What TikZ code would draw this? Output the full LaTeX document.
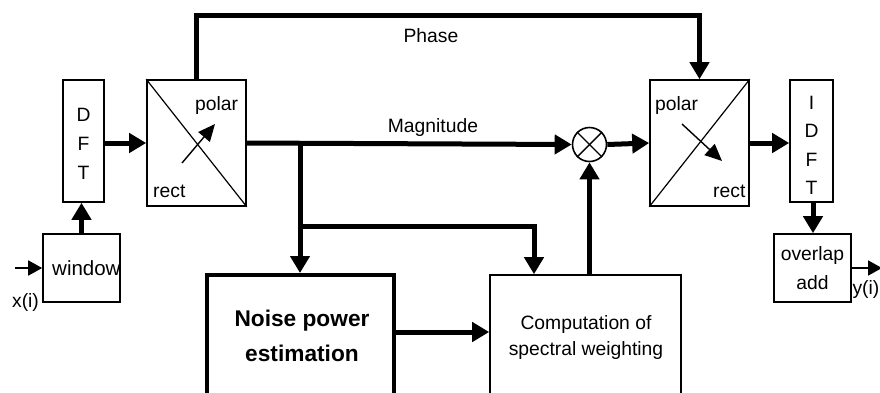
\documentclass[tikz,border=0pt]{standalone}
\usepackage{fontspec}
\setmainfont{Liberation Sans}
\usetikzlibrary{arrows.meta,positioning}

\tikzset{
  blk/.style={draw, line width=1.6pt, inner sep=0pt},
  bigblk/.style={draw, line width=4pt, inner sep=0pt},
  lbl/.style={inner sep=0pt},
  sig/.style={line width=5pt, -{Triangle[length=17pt,width=19pt]}},
  thinsig/.style={line width=1.8pt, -{Triangle[length=14pt,width=15pt]}},
  inner/.style={line width=1.4pt, -{Triangle[length=17pt,width=15pt]}},
}

\begin{document}
\begin{tikzpicture}[x=1pt, y=-1pt, font=\fontsize{19.3}{26}\selectfont]
  \useasboundingbox (0,0) rectangle (880,392);
  \clip (0,0) rectangle (880,392);

  % Bloecke
  \node[blk, minimum width=77pt, minimum height=68pt] (win) at (81.5,268) {};
  \begin{scope}
    \clip (win.south west) rectangle (win.north east);
    \node[lbl, anchor=west, font=\fontsize{20.5}{26}\selectfont] (wintxt) at (52,268) {window};
  \end{scope}
  \node[blk, minimum width=41pt, minimum height=122pt] (dft) at (83.5,141) {};
  \node[lbl, align=center, font=\fontsize{19.3}{29}\selectfont] (dfttxt) at (83.5,144) {D\\F\\T};
  \node[blk, minimum width=99pt, minimum height=126pt] (conv1) at (196.5,143) {};
  \node[blk, minimum width=99pt, minimum height=126pt] (conv2) at (699.5,143) {};
  \node[blk, circle, minimum size=34pt] (mult) at (589.5,144.5) {};
  \node[blk, minimum width=43pt, minimum height=122pt] (idft) at (811.5,141) {};
  \node[lbl, align=center, font=\fontsize{19.3}{28.5}\selectfont] (idfttxt) at (811.5,145.5) {I\\D\\F\\T};
  \node[blk, minimum width=77pt, minimum height=68pt, align=center,
        font=\fontsize{19.3}{29}\selectfont] (ola) at (812.5,268) {overlap\\add};
  \node[bigblk, minimum width=187pt, minimum height=155pt] (noise) at (300.5,352.5) {};
  \node[blk, minimum width=191pt, minimum height=155pt] (comp) at (585.5,352.5) {};

  % Texte
  \node[lbl, align=center, font=\fontsize{22.7}{35}\selectfont\bfseries] (noisetxt) at (302,336) {Noise power\\estimation};
  \node[lbl, align=center] (comptxt) at (586,337) {Computation of\\spectral weighting};
  \node[lbl, anchor=base west] (pol1) at (195,110) {polar};
  \node[lbl, anchor=base west] (rect1) at (153,197) {rect};
  \node[lbl, anchor=base west] (pol2) at (655,110) {polar};
  \node[lbl, anchor=base west] (rect2) at (713,197) {rect};
  \node[lbl] (xin) at (25.5,302) {x(i)};
  \node[lbl, anchor=east] (yout) at (879.5,290) {y(i)};

  % Wandler
  \draw[line width=1.2pt] (conv1.north west) -- (conv1.south east);
  \draw[line width=1.2pt] (conv2.south west) -- (conv2.north east);
  \draw[inner] (182,163) -- (215,124);
  \draw[inner] (682,124) -- (722,161);
  \draw[line width=1.4pt] (mult.north west) -- (mult.south east);
  \draw[line width=1.4pt] (mult.south west) -- (mult.north east);

  % Signalfluss
  \coordinate (in) at (15,268);
  \coordinate (out) at (882,268);
  \draw[thinsig] (in) -- (win.west);
  \draw[sig] (win.north) -- (win.north |- dft.south);
  \draw[sig] (dft.east |- conv1.west) -- (conv1.west);
  \draw[sig] (conv1.north) -- ++(0,-64) -| (conv2.north)
    node[lbl, pos=0.233, below=11pt] (phaselbl) {Phase};
  \draw[sig] (conv1.east) -- (mult.west)
    node[lbl, pos=0.573, above=4.5pt] (maglbl) {Magnitude};
  \draw[sig] (mult.east) -- (conv2.west);
  \draw[sig] (conv2.east) -- (idft.west |- conv2.east);
  \draw[sig] (ola.north -| 813,0) ++(0,-32) -- (ola.north -| 813,0);
  \draw[thinsig] (ola.east) -- (out);

  % Abzweige
  \coordinate (br1) at (300,143);
  \coordinate (br2) at (300,226);
  \draw[sig] (br1) -- (br1 |- noise.north);
  \draw[sig] (br2) -| ([xshift=-51.5pt]comp.north);
  \draw[sig] ([yshift=20.5pt]noise.east) -- ([yshift=20.5pt]comp.west);
  \draw[sig] (mult.south |- comp.north) -- (mult.south);
\end{tikzpicture}
\end{document}
